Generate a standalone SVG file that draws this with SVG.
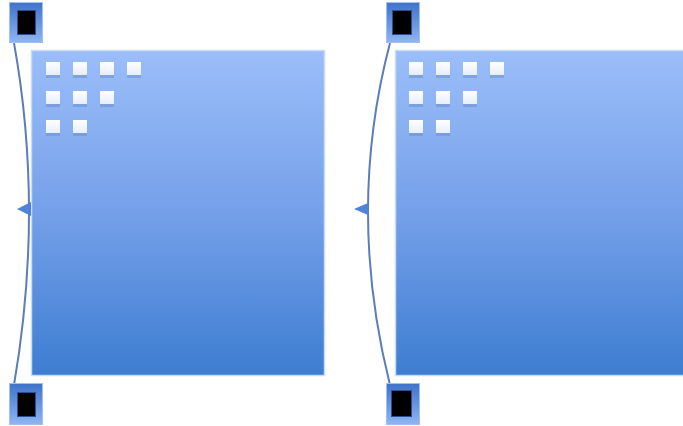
<svg xmlns="http://www.w3.org/2000/svg" width="683" height="426" viewBox="0 0 683 426">
<style>
.panel{fill:url(#pg);stroke:#c9dbf7;stroke-width:1.5}
.dot{fill:url(#dg)}
.sh{fill:#6f8fc8;opacity:0.55}
.frame{fill:url(#fg);stroke:#9ec0f2;stroke-width:1}
.core{fill:#000;stroke:#2a4f8f;stroke-width:1}
.curve{fill:none;stroke:#5d7db9;stroke-width:2}
.hl{fill:none;stroke:#ffffff;stroke-width:1.2;opacity:0.9}
.tri{fill:#4f83d6}
</style>
<defs>
<linearGradient id="pg" x1="0" y1="0" x2="0" y2="1">
<stop offset="0" stop-color="#9bbef9"/>
<stop offset="0.5" stop-color="#75a0e9"/>
<stop offset="1" stop-color="#3d7dd1"/>
</linearGradient>
<linearGradient id="dg" x1="0" y1="0" x2="0" y2="1">
<stop offset="0" stop-color="#ffffff"/>
<stop offset="1" stop-color="#e6eefc"/>
</linearGradient>
<linearGradient id="fg" x1="0" y1="0" x2="0" y2="1">
<stop offset="0" stop-color="#3f72c9"/>
<stop offset="1" stop-color="#8fb5f3"/>
</linearGradient>
<g id="dots">
<rect class="sh" x="0" y="2" width="14" height="14"/>
<rect class="sh" x="27" y="2" width="14" height="14"/>
<rect class="sh" x="54" y="2" width="14" height="14"/>
<rect class="sh" x="81" y="2" width="14" height="14"/>
<rect class="sh" x="0" y="31" width="14" height="14"/>
<rect class="sh" x="27" y="31" width="14" height="14"/>
<rect class="sh" x="54" y="31" width="14" height="14"/>
<rect class="sh" x="0" y="60" width="14" height="14"/>
<rect class="sh" x="27" y="60" width="14" height="14"/>
<rect class="dot" x="0" y="0" width="14" height="13"/>
<rect class="dot" x="27" y="0" width="14" height="13"/>
<rect class="dot" x="54" y="0" width="14" height="13"/>
<rect class="dot" x="81" y="0" width="14" height="13"/>
<rect class="dot" x="0" y="29" width="14" height="13"/>
<rect class="dot" x="27" y="29" width="14" height="13"/>
<rect class="dot" x="54" y="29" width="14" height="13"/>
<rect class="dot" x="0" y="58" width="14" height="13"/>
<rect class="dot" x="27" y="58" width="14" height="13"/>
</g>
</defs>
<g id="panel-left">
<rect class="panel" x="31.5" y="50.5" width="293" height="325"/>
<use href="#dots" x="46" y="62"/>
</g>
<g id="panel-right">
<rect class="panel" x="395.5" y="50.5" width="300" height="325"/>
<use href="#dots" x="409" y="62"/>
</g>
<g id="connectors">
<path class="hl" d="M12 43 Q40 210 12 385"/>
<path class="curve" d="M14 43 Q44 210 14 385"/>
<polygon class="tri" points="17,209 31,202 31,216"/>
<path class="hl" d="M392 43 Q348 210 392 385"/>
<path class="curve" d="M390 43 Q346 210 390 385"/>
<polygon class="tri" points="354,209 368,203 368,215"/>
</g>
<g id="handle-tl">
<rect class="frame" x="9.5" y="2.5" width="33" height="40"/>
<rect class="core" x="17.5" y="10.5" width="18" height="24"/>
</g>
<g id="handle-bl">
<rect class="frame" x="9.5" y="383.5" width="33" height="41"/>
<rect class="core" x="17.5" y="392.5" width="18" height="24"/>
</g>
<g id="handle-tr">
<rect class="frame" x="386.5" y="2.5" width="33" height="40"/>
<rect class="core" x="392.5" y="10.5" width="19" height="24"/>
</g>
<g id="handle-br">
<rect class="frame" x="386.5" y="383.5" width="33" height="41"/>
<rect class="core" x="391.5" y="390.5" width="20" height="26"/>
</g>
</svg>
